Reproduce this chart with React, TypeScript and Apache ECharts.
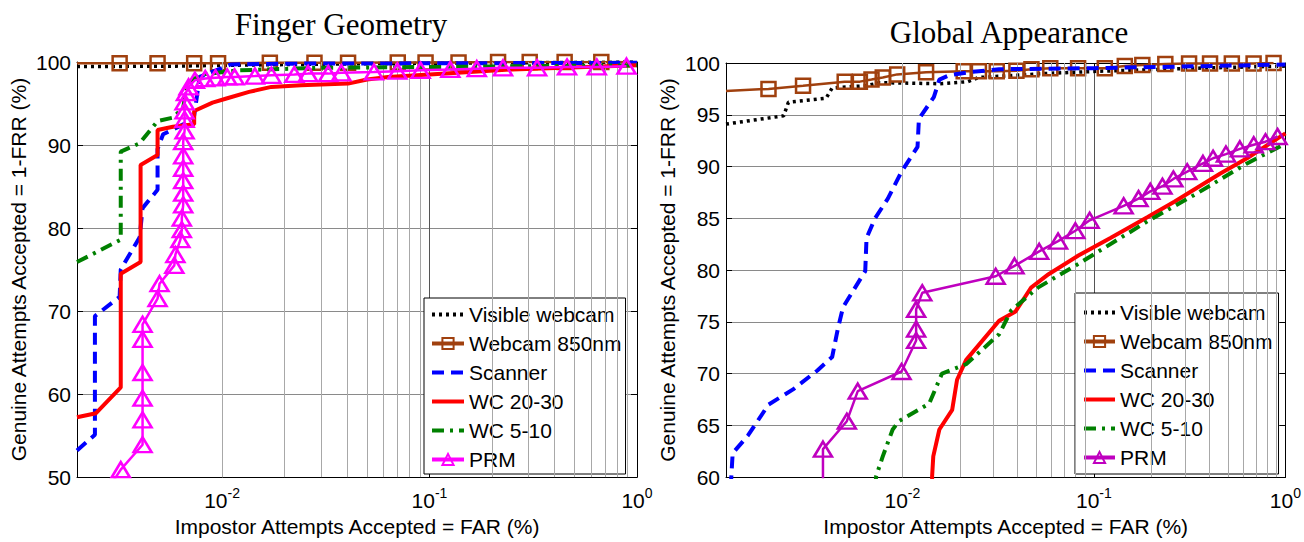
import React, { useEffect, useRef } from "react";
import * as echarts from "echarts";

// ---------------- data ----------------
const seriesNames = ["Visible webcam", "Webcam 850nm", "Scanner", "WC 20-30", "WC 5-10", "PRM"];
const titles = ["Finger Geometry", "Global Appearance"];
const xName = "Impostor Attempts Accepted = FAR (%)";
const yName = "Genuine Attempts Accepted = 1-FRR (%)";

// x axis ranges (FAR %, log scale)
const fgXRange = [0.002, 1];
const gaXRange = [0.0012, 1];
const fgYRange = [50, 100, 10];
const gaYRange = [60, 100, 5];
// minor log grid positions
const minorTicks = [
  0.002, 0.003, 0.004, 0.005, 0.006, 0.007, 0.008, 0.009,
  0.02, 0.03, 0.04, 0.05, 0.06, 0.07, 0.08, 0.09,
  0.2, 0.3, 0.4, 0.5, 0.6, 0.7, 0.8, 0.9,
];

// ---- Finger Geometry: [FAR %, 1-FRR %]
const fgVisible = [[0.002, 99.45], [0.006, 99.5], [0.01, 99.6], [0.05, 99.8], [1, 100]];
const fgWebcam850 = [
  [0.002, 99.85], [0.00321, 99.85], [0.00489, 99.85], [0.00734, 99.85], [0.00957, 99.85],
  [0.017, 99.9], [0.0279, 99.9], [0.0405, 99.9], [0.0703, 99.95], [0.0957, 99.95],
  [0.138, 99.95], [0.214, 100], [0.304, 100], [0.448, 100], [0.673, 100], [1, 100],
];
const fgScanner = [
  [0.002, 53.2], [0.00244, 55.1], [0.00244, 69.4], [0.00321, 71.7], [0.00325, 75.0],
  [0.00401, 78.9], [0.00414, 82.4], [0.00489, 84.6], [0.00489, 89.5], [0.0052, 91.3],
  [0.0073, 93.1], [0.0078, 98.2], [0.011, 99.7], [0.02, 99.8], [1, 99.9],
];
const fgWC2030 = [
  [0.002, 57.2], [0.00247, 57.7], [0.00325, 60.8], [0.00325, 74.5], [0.00405, 75.9],
  [0.00405, 87.6], [0.00489, 88.8], [0.00489, 91.8], [0.0058, 92.2], [0.00734, 92.5],
  [0.00734, 94.1], [0.009, 95.1], [0.0105, 95.6], [0.0135, 96.4], [0.0173, 97.0],
  [0.024, 97.2], [0.0405, 97.4], [0.05, 97.9], [0.063, 98.2], [0.1, 98.5], [0.25, 99.1], [1, 99.6],
];
const fgWC510 = [
  [0.002, 75.9], [0.00325, 78.6], [0.00325, 89.2], [0.004, 90.2], [0.0049, 92.9],
  [0.0058, 93.3], [0.0065, 94.5], [0.0068, 97.5], [0.008, 98.5], [0.012, 99.0],
  [0.03, 99.3], [0.1, 99.4], [1, 99.6],
];
const fgPRM = [
  [0.0029, 49], [0.00325, 50.9], [0.00414, 53.9], [0.00414, 56.9], [0.00414, 59.5],
  [0.00414, 62.6], [0.00414, 66.6], [0.00414, 68.4], [0.00489, 71.5], [0.005, 73.3],
  [0.00589, 75.5], [0.00596, 76.8], [0.0063, 78.6], [0.0064, 79.8], [0.0064, 81.2],
  [0.0065, 82.8], [0.0065, 84.2], [0.0065, 85.7], [0.0065, 87.2], [0.0065, 88.7],
  [0.0065, 90.4], [0.0066, 91.7], [0.0066, 93.1], [0.0066, 94.1], [0.0066, 95.2],
  [0.0067, 96.3], [0.0069, 97.0], [0.0074, 97.8], [0.0083, 98.0], [0.0093, 98.1],
  [0.0106, 98.2], [0.0115, 98.2], [0.0144, 98.3], [0.0173, 98.4], [0.0223, 98.5],
  [0.026, 98.6], [0.0325, 98.6], [0.0376, 98.7], [0.054, 98.8], [0.07, 98.9],
  [0.0906, 99.0], [0.126, 99.1], [0.169, 99.2], [0.226, 99.3], [0.33, 99.3],
  [0.46, 99.4], [0.64, 99.4], [0.89, 99.5],
];

// ---- Global Appearance
const gaVisible = [
  [0.0012, 94.1], [0.0024, 94.9], [0.00254, 96.2], [0.004, 96.6], [0.0043, 97.6],
  [0.0065, 97.8], [0.0076, 98.1], [0.0156, 98.0], [0.022, 98.2], [0.025, 98.6],
  [0.058, 99.0], [0.105, 99.2], [0.35, 99.5], [1, 99.7],
];
const gaWebcam850 = [
  [0.0012, 97.3], [0.002, 97.5], [0.00303, 97.8], [0.005, 98.2], [0.006, 98.2],
  [0.0069, 98.4], [0.0079, 98.6], [0.0094, 98.9], [0.0133, 99.1], [0.0209, 99.2],
  [0.0251, 99.2], [0.0311, 99.2], [0.0394, 99.25], [0.0472, 99.4], [0.0592, 99.5],
  [0.0827, 99.5], [0.114, 99.5], [0.145, 99.7], [0.179, 99.8], [0.236, 99.9],
  [0.314, 99.95], [0.404, 99.95], [0.525, 99.95], [0.682, 99.95], [0.867, 100],
];
const gaScanner = [
  [0.00127, 59], [0.0013, 62.3], [0.00156, 64], [0.002, 67], [0.0027, 68.5],
  [0.0036, 70.3], [0.0043, 71.6], [0.0046, 74.3], [0.0049, 76.4], [0.0064, 79.9],
  [0.0065, 83.1], [0.0072, 85], [0.0084, 86.9], [0.0099, 89.5], [0.012, 91.9],
  [0.0122, 94.6], [0.0146, 96.7], [0.0156, 98.4], [0.0175, 98.8], [0.022, 99.1],
  [0.032, 99.4], [0.1, 99.5], [1, 99.85],
];
const gaWC2030 = [
  [0.0143, 59], [0.0143, 60.1], [0.0145, 62], [0.0156, 64.6], [0.0182, 66.5],
  [0.0193, 69.4], [0.0215, 71.3], [0.032, 75.1], [0.039, 76], [0.047, 78.3],
  [0.058, 79.6], [0.083, 81.4], [0.122, 83.1], [0.19, 85.1], [0.263, 86.6],
  [0.455, 89.3], [0.63, 90.8], [1, 93.2],
];
const gaWC510 = [
  [0.0072, 59], [0.0073, 60.1], [0.0079, 62], [0.0089, 64.6], [0.0096, 65.4],
  [0.0138, 67.1], [0.0161, 70], [0.0215, 70.9], [0.032, 73.8], [0.037, 76.1],
  [0.051, 78.3], [0.083, 80.6], [0.19, 84.7], [0.345, 87.4], [0.63, 90.3], [1, 92.2],
];
const gaPRM = [
  [0.00385, 59], [0.00385, 62.7], [0.00513, 65.4], [0.00585, 68.3], [0.0099, 70.2],
  [0.0118, 73.2], [0.0118, 74.3], [0.0118, 76.2], [0.0127, 77.8], [0.0307, 79.4],
  [0.0385, 80.4], [0.0518, 81.8], [0.065, 82.8], [0.08, 83.8], [0.095, 84.8],
  [0.143, 86.2], [0.171, 86.9], [0.197, 87.6], [0.228, 88.1], [0.26, 88.8],
  [0.307, 89.5], [0.371, 90.3], [0.419, 90.8], [0.489, 91.2], [0.578, 91.7],
  [0.683, 92.1], [0.787, 92.4], [0.91, 92.9],
];

// ---------------- styles ----------------
const SANS = '"Liberation Sans", Arial, Helvetica, sans-serif';
const SERIF = '"Liberation Serif", "Times New Roman", serif';

type Style = {
  color: string; width: number; dash: any; symbol: string; symbolSize: any; border: number;
};
const mkStyles = (prmColor: string): Style[] => [
  { color: "#000000", width: 3.5, dash: [3, 4], symbol: "none", symbolSize: 0, border: 0 },
  { color: "#A0400E", width: 2.5, dash: "solid", symbol: "rect", symbolSize: 14, border: 2.5 },
  { color: "#0000FF", width: 4, dash: [12, 7], symbol: "none", symbolSize: 0, border: 0 },
  { color: "#FF0000", width: 4, dash: "solid", symbol: "none", symbolSize: 0, border: 0 },
  { color: "#008000", width: 4, dash: [12, 6, 3, 6], symbol: "none", symbolSize: 0, border: 0 },
  { color: prmColor, width: 2.5, dash: "solid", symbol: "triangle", symbolSize: [18, 15], border: 2.5 },
];

function buildSeries(
  names: string[], datasets: number[][][], styles: Style[], axisIdx: number,
  anchorIdx: number[][]
) {
  return datasets.map((d, i) => {
    const st = styles[i];
    const data = d.map((p, j) =>
      anchorIdx[i].includes(j) || anchorIdx[i].includes(j - d.length)
        ? { value: p, symbol: "none" }
        : p
    );
    return {
      type: "line",
      name: names[i],
      xAxisIndex: axisIdx,
      yAxisIndex: axisIdx,
      data,
      symbol: st.symbol,
      symbolSize: st.symbolSize,
      showSymbol: st.symbol !== "none",
      clip: true,
      z: 3 + i,
      lineStyle: { color: st.color, width: st.width, type: st.dash, cap: "butt" },
      itemStyle: { color: "transparent", borderColor: st.color, borderWidth: st.border },
      emphasis: { disabled: true },
      silent: true,
    };
  });
}

function gridSeries(axisIdx: number) {
  return {
    type: "line",
    name: "",
    xAxisIndex: axisIdx,
    yAxisIndex: axisIdx,
    data: [],
    z: 1,
    silent: true,
    markLine: {
      silent: true,
      symbol: ["none", "none"],
      label: { show: false },
      lineStyle: { color: "#a8a8a8", width: 1, type: "solid" },
      emphasis: { disabled: true },
      data: minorTicks.map((v) => ({ xAxis: v })),
    },
  };
}

const powLabel = (v: number) => {
  const l = Math.log10(v);
  const e = Math.round(l);
  if (Math.abs(l - e) > 1e-6) return "";
  return "{b|10}{s|" + e + "}";
};

function xAxes(range: number[], grid: number, nameGap: number) {
  return [
    {
      gridIndex: grid, type: "log", logBase: 10, min: range[0], max: range[1], position: "bottom",
      axisLine: { show: true, onZero: false, lineStyle: { color: "#000", width: 1 } },
      axisTick: { show: true, inside: true, length: 6, lineStyle: { color: "#000" } },
      axisLabel: {
        formatter: powLabel, margin: 9, color: "#000", fontSize: 21, fontFamily: SANS,
        rich: {
          b: { fontSize: 21, fontFamily: SANS, color: "#000" },
          s: { fontSize: 14, fontFamily: SANS, color: "#000", padding: [0, 0, 15, 0] },
        },
      },
      splitLine: { show: true, lineStyle: { color: "#555", width: 1 } },
      name: xName, nameLocation: "middle", nameGap,
      nameTextStyle: { fontSize: 21, fontFamily: SANS, color: "#000" },
    },
    {
      gridIndex: grid, type: "log", logBase: 10, min: range[0], max: range[1], position: "top",
      axisLine: { show: true, onZero: false, lineStyle: { color: "#000", width: 1 } },
      axisTick: { show: true, inside: true, length: 6, lineStyle: { color: "#000" } },
      axisLabel: { show: false },
      splitLine: { show: false },
    },
  ];
}

function yAxes(range: number[], grid: number, nameGap: number) {
  return [
    {
      gridIndex: grid, type: "value", min: range[0], max: range[1], interval: range[2],
      position: "left",
      axisLine: { show: true, onZero: false, lineStyle: { color: "#000", width: 1 } },
      axisTick: { show: true, inside: true, length: 6, lineStyle: { color: "#000" } },
      axisLabel: { margin: 6, color: "#000", fontSize: 21, fontFamily: SANS },
      splitLine: { show: true, lineStyle: { color: "#8a8a8a", width: 1 } },
      name: yName, nameLocation: "middle", nameGap, nameRotate: 90,
      nameTextStyle: { fontSize: 21, fontFamily: SANS, color: "#000" },
    },
    {
      gridIndex: grid, type: "value", min: range[0], max: range[1], interval: range[2],
      position: "right",
      axisLine: { show: true, onZero: false, lineStyle: { color: "#000", width: 1 } },
      axisTick: { show: true, inside: true, length: 6, lineStyle: { color: "#000" } },
      axisLabel: { show: false },
      splitLine: { show: false },
    },
  ];
}

function legend(names: string[], left: number, top: number, padding: number[], itemWidth: number) {
  return {
    data: names,
    orient: "vertical",
    left, top,
    itemWidth, itemHeight: 14, itemGap: 8,
    padding,
    backgroundColor: "#fff",
    borderColor: "#000",
    borderWidth: 1,
    borderRadius: 0,
    selectedMode: false,
    lineStyle: { width: 4 },
    formatter: (n: string) => n.trim(),
    textStyle: { fontSize: 21, fontFamily: SANS, color: "#000" },
  };
}

export default function App() {
  const ref = useRef<HTMLDivElement>(null);
  useEffect(() => {
    if (!ref.current) return;
    const chart = echarts.init(ref.current, undefined, { renderer: "svg" });
    const leftNames = seriesNames;
    const rightNames = seriesNames.map((n) => n + " ");

    const xs = [...xAxes(fgXRange, 0, 31), ...xAxes(gaXRange, 1, 33)];
    const ys = [...yAxes(fgYRange, 0, 48), ...yAxes(gaYRange, 1, 48)];

    const leftSeries = buildSeries(
      leftNames,
      [fgVisible, fgWebcam850, fgScanner, fgWC2030, fgWC510, fgPRM],
      mkStyles("#FF00FF"),
      0,
      [[], [0, -1], [], [], [], [0]]
    );
    const rightSeries = buildSeries(
      rightNames,
      [gaVisible, gaWebcam850, gaScanner, gaWC2030, gaWC510, gaPRM],
      mkStyles("#BF00BF"),
      2,
      [[], [0], [], [], [], [0]]
    );

    chart.setOption({
      animation: false,
      backgroundColor: "#fff",
      title: [
        { text: titles[0], left: 336, top: 4, textAlign: "center",
          textStyle: { fontSize: 31, fontWeight: "normal", fontFamily: SERIF, color: "#000" } },
        { text: titles[1], left: 1004, top: 12, textAlign: "center",
          textStyle: { fontSize: 31, fontWeight: "normal", fontFamily: SERIF, color: "#000" } },
      ],
      grid: [
        { left: 77, top: 62, width: 560, height: 421, containLabel: false },
        { left: 726, top: 63, width: 563, height: 418, containLabel: false },
      ],
      xAxis: xs,
      yAxis: ys,
      legend: [
        legend(leftNames, 424, 298, [6, 4, 4, 6], 32),
        legend(rightNames, 1075, 293, [9, 6, 6, 7], 31),
      ],
      series: [gridSeries(0), gridSeries(2), ...leftSeries, ...rightSeries],
    });
    return () => chart.dispose();
  }, []);
  return (
    <div
      ref={ref}
      style={{ position: "fixed", left: 0, top: 0, width: 1304, height: 542, background: "#fff" }}
    />
  );
}
